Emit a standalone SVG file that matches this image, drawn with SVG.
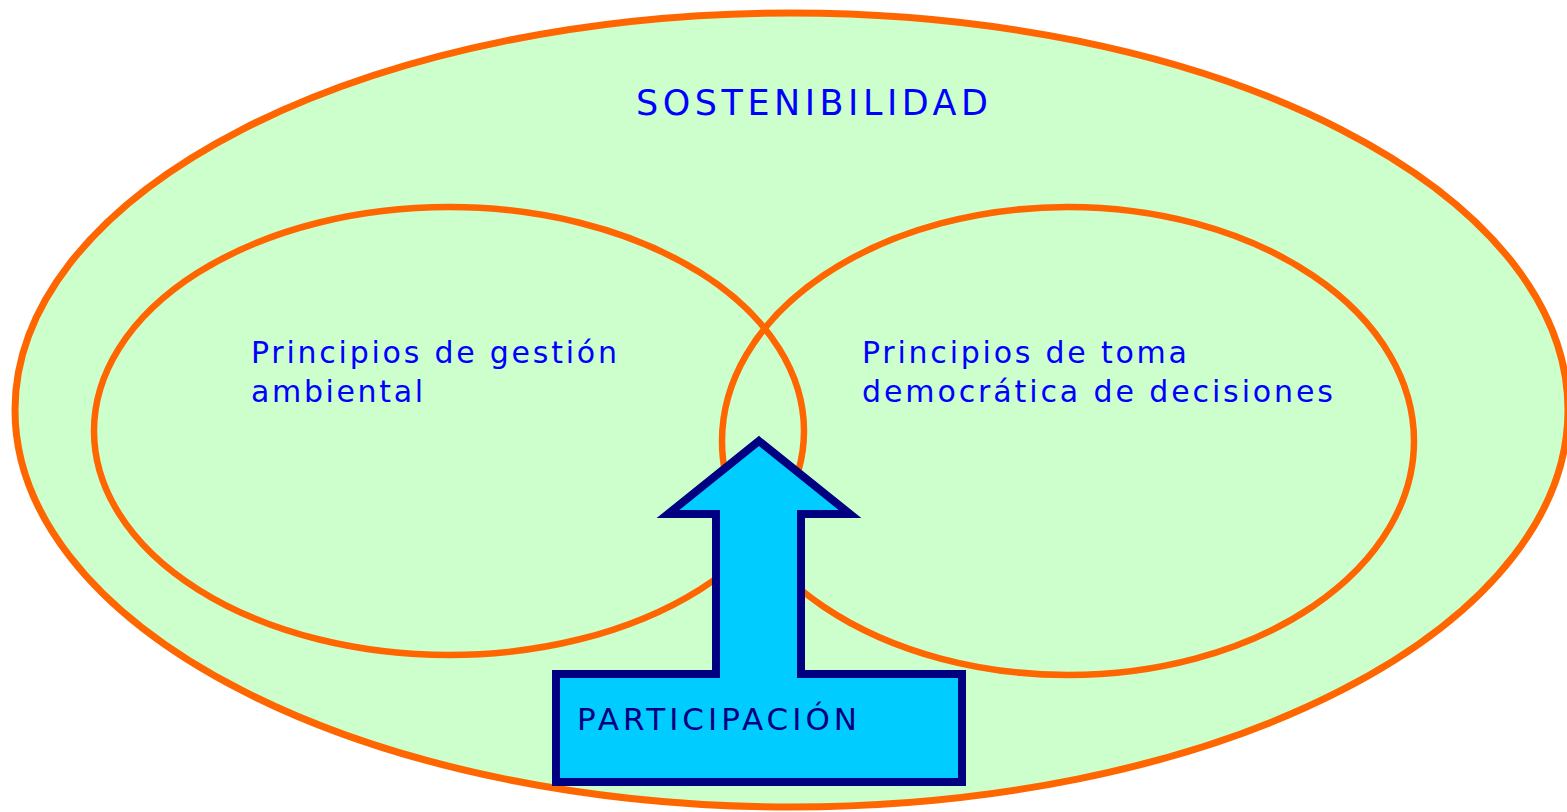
<svg xmlns="http://www.w3.org/2000/svg" width="1567" height="812" viewBox="0 0 1567 812">
<style>
.ell{fill:#CCFFCC;stroke:#FF6600;stroke-width:7}
.ring{fill:none;stroke:#FF6600;stroke-width:6.5}
.t{font-family:"DejaVu Sans",Verdana,sans-serif;font-size:30px;fill:#0000FF}
.p{font-family:"DejaVu Sans",Verdana,sans-serif;font-size:31px;fill:#000080}
</style>
<rect width="1567" height="812" fill="#FFFFFF"/>
<g id="sostenibilidad">
<ellipse class="ell" cx="791.5" cy="410" rx="776.5" ry="397"/>
<text class="t" x="636" y="115" textLength="352" lengthAdjust="spacing" style="font-size:35px">SOSTENIBILIDAD</text>
</g>
<g id="gestion">
<ellipse class="ring" cx="449" cy="431" rx="355" ry="224"/>
<text class="t" x="251" y="363" textLength="366" lengthAdjust="spacing">Principios de gestión</text>
<text class="t" x="251" y="402" textLength="172" lengthAdjust="spacing">ambiental</text>
</g>
<g id="democratica">
<ellipse class="ring" cx="1068" cy="441" rx="346" ry="234"/>
<text class="t" x="862" y="363" textLength="325" lengthAdjust="spacing">Principios de toma</text>
<text class="t" x="862" y="402" textLength="471" lengthAdjust="spacing">democrática de decisiones</text>
</g>
<g id="participacion">
<polygon points="759,441 850,514 801,514 801,674 962,674 962,782 556,782 556,674 716,674 716,514 668,514" fill="#00CCFF" stroke="#000080" stroke-width="8" stroke-miterlimit="10"/>
<text class="p" x="577" y="730" textLength="280" lengthAdjust="spacing">PARTICIPACIÓN</text>
</g>
<g id="connectors"></g>
</svg>
